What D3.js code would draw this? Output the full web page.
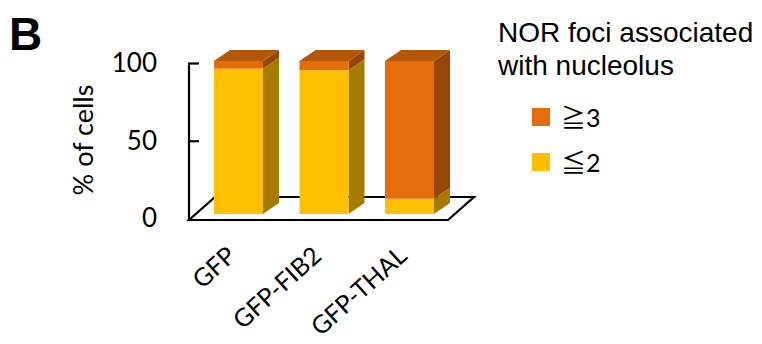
<!DOCTYPE html>
<html>
<head>
<meta charset="utf-8">
<script src="https://cdn.jsdelivr.net/npm/d3@7"></script>
<style>
  html, body { margin: 0; padding: 0; background: #fff; }
  svg { display: block; }
</style>
</head>
<body>
<svg id="chart" width="762" height="344"></svg>
<script>
// Share of cells by number of NOR foci associated with the nucleolus
const categories = ["GFP", "GFP-FIB2", "GFP-THAL"];
const seriesNames = ["≦2", "≧3"];
const lowCounts = [95, 94, 10];   // ≦2 foci, % of cells
const highCounts = [5, 6, 90];    // ≧3 foci, % of cells
const yTicks = [0, 50, 100];

const svg = d3.select("#chart");
const sansFont = "Lato, 'Open Sans', sans-serif";

// 3-D look: depth offsets of the floor and of each bar
const floorDepth = [26, -23];
const barDepth = [16, -11];

const x = d3.scaleBand().domain(categories).range([192.6, 455.4]).paddingInner(0.427).paddingOuter(0.25);
const yAxisScale = d3.scaleLinear().domain([0, 100]).range([219, 63.5]);
const yBar = d3.scaleLinear().domain([0, 100]).range([214, 61]);

const colors = {
  "≦2": { front: "#FFC000", side: "#A67C00", top: "#C89600" },
  "≧3": { front: "#E46C0A", side: "#96460A", top: "#B35709" }
};

// Floor of the plot
const fx0 = 189, fx1 = 448, fy = yAxisScale(0) + 1;
svg.append("polygon")
  .attr("points", [
    [fx0, fy], [fx1, fy],
    [fx1 + floorDepth[0], fy + floorDepth[1]],
    [fx0 + floorDepth[0], fy + floorDepth[1]]
  ].map(p => p.join(",")).join(" "))
  .attr("fill", "#fff").attr("stroke", "#000").attr("stroke-width", 2.2)
  .attr("stroke-linejoin", "miter");

// Value axis with inward ticks
const axisX = 189;
const axis = svg.append("g");
axis.append("line")
  .attr("x1", axisX).attr("x2", axisX)
  .attr("y1", yAxisScale(100)).attr("y2", fy)
  .attr("stroke", "#000").attr("stroke-width", 2.2);
axis.selectAll("line.tick").data(yTicks.filter(d => d > 0)).enter().append("line")
  .attr("class", "tick")
  .attr("x1", axisX - 1).attr("x2", axisX + 10)
  .attr("y1", d => yAxisScale(d)).attr("y2", d => yAxisScale(d))
  .attr("stroke", "#000").attr("stroke-width", 2.2);
axis.selectAll("text").data(yTicks).enter().append("text")
  .attr("x", 157).attr("y", d => yAxisScale(d) - 1)
  .attr("dy", "0.36em")
  .attr("text-anchor", "end")
  .attr("font-family", sansFont).attr("font-size", 26)
  .text(d => d);

// Stacked 3-D bars
const rows = categories.map((c, i) => ({ cat: c, "≦2": lowCounts[i], "≧3": highCounts[i] }));
const stacked = d3.stack().keys(seriesNames)(rows);
const bw = x.bandwidth();
const pts = a => a.map(p => p.join(",")).join(" ");

stacked.forEach((layer, li) => {
  const key = layer.key;
  const g = svg.append("g");
  layer.forEach(seg => {
    const x0 = x(seg.data.cat), x1 = x0 + bw;
    const yb = yBar(seg[0]), yt = yBar(seg[1]);
    const [dx, dy] = barDepth;
    // side face
    g.append("polygon")
      .attr("points", pts([[x1, yb], [x1 + dx, yb + dy], [x1 + dx, yt + dy], [x1, yt]]))
      .attr("fill", colors[key].side);
    // front face
    g.append("rect")
      .attr("x", x0).attr("y", yt).attr("width", bw).attr("height", yb - yt)
      .attr("fill", colors[key].front);
    // top face on the uppermost segment
    if (li === stacked.length - 1) {
      g.append("polygon")
        .attr("points", pts([[x0, yt], [x1, yt], [x1 + dx, yt + dy], [x0 + dx, yt + dy]]))
        .attr("fill", colors[key].top);
    }
  });
});

// Category labels
svg.append("g").selectAll("text").data(categories).enter().append("text")
  .attr("transform", d => `translate(${x(d) + bw / 2 - 1},${258}) rotate(-42)`)
  .attr("text-anchor", "end")
  .attr("font-family", sansFont).attr("font-size", 25)
  .text(d => d);

// Axis title
svg.append("text")
  .attr("transform", "translate(93,140) rotate(-90)")
  .attr("text-anchor", "middle")
  .attr("font-family", sansFont).attr("font-size", 27)
  .text("% of cells");

// Panel letter
svg.append("text")
  .attr("x", 9).attr("y", 50)
  .attr("font-family", "'Liberation Sans', Arial, sans-serif")
  .attr("font-weight", "bold").attr("font-size", 46)
  .text("B");

// Legend
const legendFont = "'Liberation Sans', Arial, sans-serif";
svg.append("text").attr("x", 498).attr("y", 42)
  .attr("font-family", legendFont).attr("font-size", 28)
  .text("NOR foci associated");
svg.append("text").attr("x", 498).attr("y", 75)
  .attr("font-family", legendFont).attr("font-size", 28)
  .text("with nucleolus");

const legendItems = seriesNames.slice().reverse();
const legend = svg.append("g").selectAll("g").data(legendItems).enter().append("g")
  .attr("transform", (d, i) => `translate(532,${108 + i * 45})`);
legend.append("rect")
  .attr("width", 18).attr("height", 18)
  .attr("fill", d => colors[d].front);
const lt = legend.append("text").attr("x", 29).attr("y", 19)
  .attr("font-size", 25);
lt.append("tspan")
  .attr("font-family", "'Noto Sans CJK JP', sans-serif")
  .text(d => d[0]);
lt.append("tspan")
  .attr("font-family", sansFont)
  .text(d => d.slice(1));
</script>
</body>
</html>
